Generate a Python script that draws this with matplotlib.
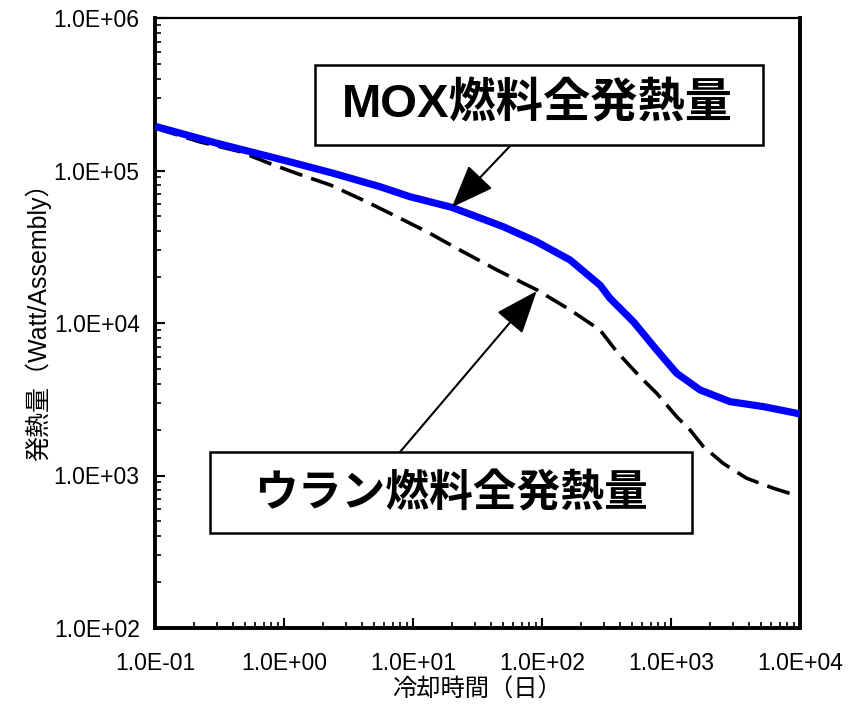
import matplotlib
matplotlib.use("Agg")
import matplotlib.pyplot as plt
from matplotlib.patches import Rectangle
from matplotlib.ticker import LogLocator, FixedLocator, NullFormatter

plt.rcParams['font.family'] = ['Liberation Sans', 'Noto Sans CJK JP', 'DejaVu Sans']

# Cooling time (days) and decay heat (Watt/Assembly)
mox_x = [0.1, 0.301, 0.988, 2.41, 5.55, 9.48, 19.9, 50.1, 91, 165, 282, 337, 511, 775,
         1107, 1679, 2866, 5195, 9420, 10000]
mox_y = [1.95e5, 1.51e5, 1.17e5, 9.59e4, 7.83e4, 6.73e4, 5.74e4, 4.28e4, 3.41e4, 2.59e4,
         1.77e4, 1.45e4, 1.02e4, 6.65e3, 4.68e3, 3.64e3, 3.05e3, 2.83e3, 2.56e3, 2.52e3]

u_x = [0.1, 0.223, 0.456, 0.778, 1.25, 2.28, 4.37, 7.93, 12.8, 21.8, 44.6, 91, 165, 282,
       380, 575, 775, 1107, 1403, 1778, 2541, 3860, 6210, 9140, 10000]
u_y = [1.90e5, 1.54e5, 1.33e5, 1.11e5, 9.58e4, 8.04e4, 6.24e4, 4.86e4, 3.97e4, 3.09e4,
       2.23e4, 1.65e4, 1.22e4, 8.99e3, 6.48e3, 4.44e3, 3.46e3, 2.43e3, 1.99e3, 1.55e3,
       1.20e3, 959, 825, 745, 730]

x_ticks = [1e-1, 1e0, 1e1, 1e2, 1e3, 1e4]
x_ticklabels = ["1.0E-01", "1.0E+00", "1.0E+01", "1.0E+02", "1.0E+03", "1.0E+04"]
y_ticks = [1e2, 1e3, 1e4, 1e5, 1e6]
y_ticklabels = ["1.0E+02", "1.0E+03", "1.0E+04", "1.0E+05", "1.0E+06"]

mox_label = "MOX燃料全発熱量"
u_label = "ウラン燃料全発熱量"
xlabel = "冷却時間（日）"
ylabel = "発熱量（Watt/Assembly）"

W, H = 858, 708
fig = plt.figure(figsize=(W/100, H/100), dpi=100)
ax = fig.add_axes([155/W, 1-628/H, 645/W, 610/H])

ax.plot(u_x, u_y, color='black', lw=2.6, ls=(0, (6.5, 2.6)), zorder=3)
ax.plot(mox_x, mox_y, color='#0000ff', lw=5.2, solid_capstyle='butt', zorder=4)

ax.set_xscale('log')
ax.set_yscale('log')
ax.set_xlim(0.1, 1e4)
ax.set_ylim(1e2, 1e6)

ax.xaxis.set_major_locator(FixedLocator(x_ticks))
ax.set_xticklabels(x_ticklabels)
ax.yaxis.set_major_locator(FixedLocator(y_ticks))
ax.set_yticklabels(y_ticklabels)
ax.xaxis.set_minor_locator(LogLocator(base=10, subs=range(2, 10)))
ax.yaxis.set_minor_locator(LogLocator(base=10, subs=range(2, 10)))
ax.xaxis.set_minor_formatter(NullFormatter())
ax.yaxis.set_minor_formatter(NullFormatter())

ax.tick_params(which='major', direction='in', length=7, width=1.5, labelsize=16.5,
               top=False, right=False)
ax.tick_params(which='minor', direction='in', length=4, width=1.2, top=False, right=False)
ax.tick_params(axis='x', which='major', pad=17)
ax.tick_params(axis='y', which='major', pad=11)

for s in ['left', 'bottom', 'right']:
    ax.spines[s].set_linewidth(2.8)
ax.spines['top'].set_linewidth(1.6)

ax.set_xlabel(xlabel, fontsize=17.5)
ax.xaxis.set_label_coords(0.5, -(690-628)/610, transform=ax.transAxes)
ax.set_ylabel(ylabel, fontsize=18)
ax.yaxis.set_label_coords(-(155-38)/645, 1-(316-18)/610, transform=ax.transAxes)
ax.xaxis.label.set_va('center')
ax.yaxis.label.set_va('center')

def px(x, y):
    """figure-pixel (top-left origin) to figure fraction"""
    return (x/W, 1-y/H)

# text boxes
for (x0, y0, x1, y1) in [(315, 65, 763, 145), (210, 452, 692, 533)]:
    fig.patches.append(Rectangle(px(x0, y1), (x1-x0)/W, (y1-y0)/H, transform=fig.transFigure,
                                 fc='white', ec='black', lw=1.8, zorder=5))

fig.text(*px(537, 105), mox_label, ha='center', va='center', fontsize=34,
         fontweight='bold', zorder=6)
fig.text(*px(451, 494), u_label, ha='center', va='center', fontsize=31.5,
         fontweight='bold', zorder=6)

arrow = dict(arrowstyle='-|>,head_length=0.9,head_width=0.35', mutation_scale=30,
             color='black', lw=1.5, shrinkA=0, shrinkB=0)
ax.annotate('', xy=(20, 5.74e4), xycoords='data',
            xytext=px(511, 145), textcoords='figure fraction', arrowprops=arrow, zorder=4)
ax.annotate('', xy=(91, 1.62e4), xycoords='data',
            xytext=px(400, 452), textcoords='figure fraction', arrowprops=arrow, zorder=4)

fig.savefig("out.png", dpi=100)
